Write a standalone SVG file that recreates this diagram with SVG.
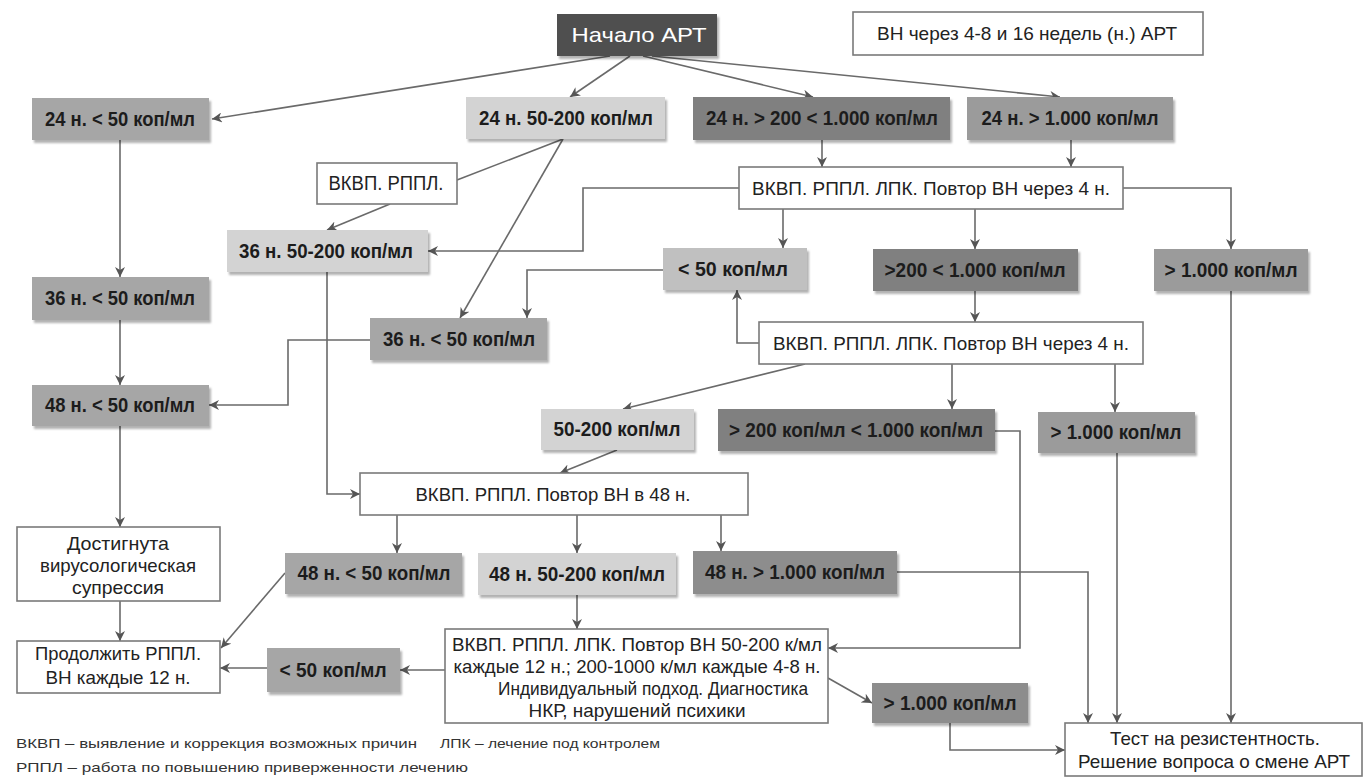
<svg xmlns="http://www.w3.org/2000/svg" width="1364" height="777" viewBox="0 0 1364 777">
<style>
.b{font-family:"Liberation Sans",Arial,sans-serif;font-weight:bold;font-size:20px;fill:#1c1c1c;text-anchor:middle}
.r{font-family:"Liberation Sans",Arial,sans-serif;font-size:19px;fill:#222;text-anchor:middle}
.lg{font-family:"Liberation Sans",Arial,sans-serif;font-size:13.5px;fill:#333}
.wb{fill:#fff;stroke:#7a7a7a;stroke-width:1.6}
.g1{fill:#a6a6a6;filter:url(#sh)}
.g2{fill:#d3d3d3;filter:url(#sh)}
.g3{fill:#808080;filter:url(#sh)}
.g4{fill:#9b9b9b;filter:url(#sh)}
.g5{fill:#8d8d8d;filter:url(#sh)}
.g6{fill:#c0c0c0;filter:url(#sh)}
.c path{fill:none;stroke:#6a6a6a;stroke-width:1.6}
.c .a{marker-end:url(#ar)}
</style>
<defs>
<filter id="sh" x="-5%" y="-10%" width="115%" height="135%">
<feDropShadow dx="2" dy="3" stdDeviation="1.2" flood-color="#000" flood-opacity="0.3"/>
</filter>
<marker id="ar" viewBox="0 0 10 10" refX="10" refY="5" markerWidth="10" markerHeight="10" markerUnits="userSpaceOnUse" orient="auto">
<path d="M0,0 L10,5 L0,10 L3,5 z" fill="#555"/>
</marker>
</defs>
<rect width="1364" height="777" fill="#fff"/>

<g class="c" id="connectors">
<path class="a" d="M610,56 L212,119"/>
<path class="a" d="M630,56 L570,97"/>
<path class="a" d="M643,56 L813,97"/>
<path class="a" d="M652,56 L1060,97"/>
<path d="M563,139 L457,180"/>
<path class="a" d="M390,204 L327,230"/>
<path class="a" d="M563,139 L460,318"/>
<path class="a" d="M822,140 V167"/>
<path class="a" d="M1071,140 V167"/>
<path class="a" d="M739,188 H583 V251 H428"/>
<path class="a" d="M783,209 V248"/>
<path class="a" d="M975,209 V249"/>
<path class="a" d="M1123,188 H1231 V249"/>
<path class="a" d="M663,270 H527 V318"/>
<path class="a" d="M370,340 H288 V405 H209"/>
<path class="a" d="M120,140 V277"/>
<path class="a" d="M120,320 V385"/>
<path class="a" d="M120,426 V527"/>
<path class="a" d="M120,601 V641"/>
<path class="a" d="M327,272 V494 H360"/>
<path class="a" d="M975,291 V322"/>
<path class="a" d="M759,343 H737 V290"/>
<path class="a" d="M805,364 L623,409"/>
<path class="a" d="M952,364 V409"/>
<path class="a" d="M1115,364 V412"/>
<path class="a" d="M1231,291 V723"/>
<path class="a" d="M1117,453 V723"/>
<path class="a" d="M995,431 H1020 V648 H828"/>
<path class="a" d="M897,572 H1088 V723"/>
<path class="a" d="M950,723 V750 H1065"/>
<path class="a" d="M617,450 L560,473"/>
<path class="a" d="M397,515 V553"/>
<path class="a" d="M577,515 V553"/>
<path class="a" d="M721,515 V551"/>
<path class="a" d="M577,595 V629"/>
<path class="a" d="M285,573 L221,648"/>
<path class="a" d="M445,670 H400"/>
<path class="a" d="M267,668 H220"/>
<path class="a" d="M828,678 L872,703"/>
</g>

<g id="n1"><rect x="557" y="14" width="160" height="42" fill="#505050" filter="url(#sh)"/><text class="r" x="639" y="42" style="fill:#fff;font-size:21px" textLength="135" lengthAdjust="spacingAndGlyphs">Начало АРТ</text></g>
<g id="n2"><rect class="wb" x="853" y="12" width="350" height="43"/><text class="r" x="1027" y="40" textLength="300" lengthAdjust="spacingAndGlyphs">ВН через 4-8 и 16 недель (н.) АРТ</text></g>
<g id="n3"><rect class="g1" x="32" y="98" width="177" height="42"/><text class="b" x="120" y="126" textLength="150" lengthAdjust="spacingAndGlyphs">24 н. &lt; 50 коп/мл</text></g>
<g id="n4"><rect class="g2" x="466" y="97" width="199" height="42"/><text class="b" x="566" y="125" textLength="174" lengthAdjust="spacingAndGlyphs">24 н. 50-200 коп/мл</text></g>
<g id="n5"><rect class="g3" x="693" y="97" width="257" height="43"/><text class="b" x="822" y="125" textLength="232" lengthAdjust="spacingAndGlyphs">24 н. &gt; 200 &lt; 1.000 коп/мл</text></g>
<g id="n6"><rect class="g4" x="967" y="97" width="206" height="43"/><text class="b" x="1070" y="125" textLength="177" lengthAdjust="spacingAndGlyphs">24 н. &gt; 1.000 коп/мл</text></g>
<g id="n7"><rect class="wb" x="317" y="163" width="140" height="41"/><text class="r" x="386" y="190" style="font-size:20px" textLength="115" lengthAdjust="spacingAndGlyphs">ВКВП. РППЛ.</text></g>
<g id="n8"><rect class="wb" x="739" y="167" width="384" height="42"/><text class="r" x="931" y="195" textLength="358" lengthAdjust="spacingAndGlyphs">ВКВП. РППЛ. ЛПК. Повтор ВН через 4 н.</text></g>
<g id="n9"><rect class="g2" x="227" y="230" width="201" height="42"/><text class="b" x="326" y="258" textLength="174" lengthAdjust="spacingAndGlyphs">36 н. 50-200 коп/мл</text></g>
<g id="n10"><rect class="g6" x="663" y="248" width="144" height="42"/><text class="b" x="733" y="276" textLength="110" lengthAdjust="spacingAndGlyphs">&lt; 50 коп/мл</text></g>
<g id="n11"><rect class="g3" x="873" y="249" width="205" height="42"/><text class="b" x="975" y="277" textLength="181" lengthAdjust="spacingAndGlyphs">&gt;200 &lt; 1.000 коп/мл</text></g>
<g id="n12"><rect class="g4" x="1154" y="249" width="154" height="42"/><text class="b" x="1231" y="277" textLength="133" lengthAdjust="spacingAndGlyphs">&gt; 1.000 коп/мл</text></g>
<g id="n13"><rect class="g1" x="32" y="277" width="177" height="43"/><text class="b" x="120" y="305" textLength="150" lengthAdjust="spacingAndGlyphs">36 н. &lt; 50 коп/мл</text></g>
<g id="n14"><rect class="g1" x="370" y="318" width="177" height="42"/><text class="b" x="459" y="346" textLength="152" lengthAdjust="spacingAndGlyphs">36 н. &lt; 50 коп/мл</text></g>
<g id="n15"><rect class="wb" x="759" y="322" width="384" height="42"/><text class="r" x="951" y="350" textLength="356" lengthAdjust="spacingAndGlyphs">ВКВП. РППЛ. ЛПК. Повтор ВН через 4 н.</text></g>
<g id="n16"><rect class="g1" x="32" y="385" width="177" height="41"/><text class="b" x="120" y="412" textLength="150" lengthAdjust="spacingAndGlyphs">48 н. &lt; 50 коп/мл</text></g>
<g id="n17"><rect class="g2" x="541" y="409" width="153" height="41"/><text class="b" x="617" y="436" textLength="127" lengthAdjust="spacingAndGlyphs">50-200 коп/мл</text></g>
<g id="n18"><rect class="g3" x="718" y="409" width="277" height="42"/><text class="b" x="856" y="437" textLength="254" lengthAdjust="spacingAndGlyphs">&gt; 200 коп/мл &lt; 1.000 коп/мл</text></g>
<g id="n19"><rect class="g4" x="1038" y="412" width="157" height="41"/><text class="b" x="1116" y="439" textLength="131" lengthAdjust="spacingAndGlyphs">&gt; 1.000 коп/мл</text></g>
<g id="n20"><rect class="wb" x="360" y="473" width="388" height="42"/><text class="r" x="553" y="501" textLength="275" lengthAdjust="spacingAndGlyphs">ВКВП. РППЛ. Повтор ВН в 48 н.</text></g>
<g id="n21"><rect class="wb" x="17" y="527" width="203" height="74"/><text class="r" x="118" y="550" textLength="102" lengthAdjust="spacingAndGlyphs">Достигнута</text><text class="r" x="118" y="572" textLength="156" lengthAdjust="spacingAndGlyphs">вирусологическая</text><text class="r" x="118" y="594" textLength="92" lengthAdjust="spacingAndGlyphs">супрессия</text></g>
<g id="n22"><rect class="g1" x="285" y="553" width="177" height="41"/><text class="b" x="374" y="580" textLength="153" lengthAdjust="spacingAndGlyphs">48 н. &lt; 50 коп/мл</text></g>
<g id="n23"><rect class="g2" x="478" y="553" width="198" height="42"/><text class="b" x="577" y="581" textLength="176" lengthAdjust="spacingAndGlyphs">48 н. 50-200 коп/мл</text></g>
<g id="n24"><rect class="g5" x="693" y="551" width="204" height="43"/><text class="b" x="795" y="579" textLength="180" lengthAdjust="spacingAndGlyphs">48 н. &gt; 1.000 коп/мл</text></g>
<g id="n25"><rect class="wb" x="17" y="641" width="203" height="52"/><text class="r" x="118" y="660" textLength="166" lengthAdjust="spacingAndGlyphs">Продолжить РППЛ.</text><text class="r" x="118" y="684" textLength="145" lengthAdjust="spacingAndGlyphs">ВН каждые 12 н.</text></g>
<g id="n26"><rect class="g1" x="267" y="648" width="133" height="44"/><text class="b" x="333" y="677" textLength="107" lengthAdjust="spacingAndGlyphs">&lt; 50 коп/мл</text></g>
<g id="n27"><rect class="wb" x="445" y="629" width="383" height="94"/><text class="r" x="637" y="651" textLength="370" lengthAdjust="spacingAndGlyphs">ВКВП. РППЛ. ЛПК. Повтор ВН 50-200 к/мл</text><text class="r" x="637" y="673" textLength="367" lengthAdjust="spacingAndGlyphs">каждые 12 н.; 200-1000 к/мл каждые 4-8 н.</text><text class="r" x="653" y="695" textLength="310" lengthAdjust="spacingAndGlyphs">Индивидуальный подход.  Диагностика</text><text class="r" x="637" y="717" textLength="217" lengthAdjust="spacingAndGlyphs">НКР, нарушений психики</text></g>
<g id="n28"><rect class="g5" x="872" y="683" width="156" height="40"/><text class="b" x="950" y="710" textLength="133" lengthAdjust="spacingAndGlyphs">&gt; 1.000 коп/мл</text></g>
<g id="n29"><rect class="wb" x="1065" y="723" width="297" height="53"/><text class="r" x="1215" y="745" textLength="210" lengthAdjust="spacingAndGlyphs">Тест на резистентность.</text><text class="r" x="1214" y="768" textLength="272" lengthAdjust="spacingAndGlyphs">Решение вопроса о смене АРТ</text></g>

<g id="legend">
<text class="lg" x="16" y="748" textLength="401" lengthAdjust="spacingAndGlyphs">ВКВП – выявление и коррекция возможных причин</text>
<text class="lg" x="440" y="748" textLength="220" lengthAdjust="spacingAndGlyphs">ЛПК – лечение под контролем</text>
<text class="lg" x="16" y="772" textLength="452" lengthAdjust="spacingAndGlyphs">РППЛ – работа по повышению приверженности лечению</text>
</g>
</svg>
